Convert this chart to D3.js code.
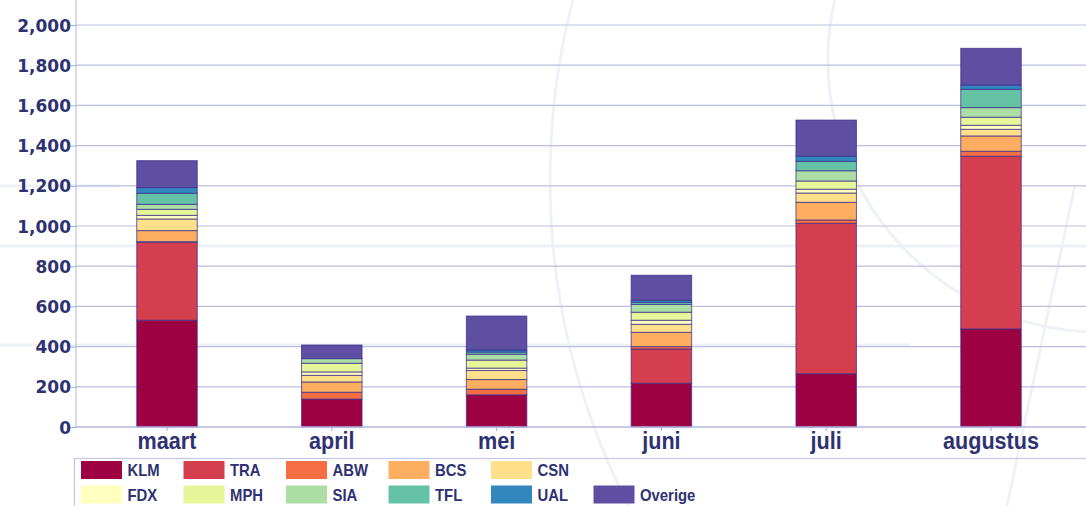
<!DOCTYPE html>
<html>
<head>
<meta charset="utf-8">
<script src="https://cdn.jsdelivr.net/npm/d3@7"></script>
<style>
  html, body { margin: 0; padding: 0; background: #fff; }
  svg { display: block; }
</style>
</head>
<body>
<svg id="chart"></svg>
<script>
// maanden en maatschappijen
const maanden = ['maart', 'april', 'mei', 'juni', 'juli', 'augustus'];
const series = ['KLM', 'TRA', 'ABW', 'BCS', 'CSN', 'FDX', 'MPH', 'SIA', 'TFL', 'UAL', 'Overige'];

const KLM     = [531, 139, 160, 218, 265, 488];
const TRA     = [388,   0,   0, 170, 748, 859];
const ABW     = [  3,  34,  28,  12,  17,  25];
const BCS     = [ 55,  51,  48,  71,  88,  76];
const CSN     = [ 58,  33,  45,  40,  46,  33];
const FDX     = [ 18,  17,  12,  20,  19,  20];
const MPH     = [ 30,  43,  40,  40,  41,  40];
const SIA     = [ 25,  23,  29,  39,  51,  48];
const TFL     = [ 55,   0,  11,  10,  47,  91];
const UAL     = [ 28,   0,  10,  10,  25,  21];
const Overige = [134,  68, 169, 125, 180, 183];

const yTicks = [0, 200, 400, 600, 800, 1000, 1200, 1400, 1600, 1800, 2000];

const waarden = { KLM, TRA, ABW, BCS, CSN, FDX, MPH, SIA, TFL, UAL, Overige };
const tabel = maanden.map((m, i) => {
  const rij = { maand: m };
  series.forEach(s => { rij[s] = waarden[s][i]; });
  return rij;
});

const W = 1086, H = 506;
const tekst = '#2e3272';
const svg = d3.select('#chart').attr('width', W).attr('height', H);

// achtergrond decoratie (vage bogen)
const deco = svg.append('g').attr('fill', 'none').attr('stroke', '#eef2f6').attr('stroke-width', 3);
deco.append('circle').attr('cx', 1266).attr('cy', 180).attr('r', 716);
deco.append('circle').attr('cx', 1100).attr('cy', 60).attr('r', 272);
deco.append('line').attr('x1', 1075).attr('y1', 185).attr('x2', 1007).attr('y2', 506);
deco.append('line').attr('x1', 0).attr('y1', 186).attr('x2', 120).attr('y2', 186);
deco.append('line').attr('x1', 0).attr('y1', 246).attr('x2', 1086).attr('y2', 246);
deco.append('line').attr('x1', 0).attr('y1', 345).attr('x2', 910).attr('y2', 345);

const x = d3.scaleBand().domain(maanden).range([84.6, 1073.4])
  .paddingInner(0.633).paddingOuter(0.3165);
const y = d3.scaleLinear().domain([0, 2000]).range([427, 25]);
const kleur = d3.scaleOrdinal().domain(series).range(d3.schemeSpectral[11]);

// rasterlijnen
svg.append('g').selectAll('line').data(yTicks.slice(1)).join('line')
  .attr('x1', 76).attr('x2', W)
  .attr('y1', d => y(d)).attr('y2', d => y(d))
  .attr('stroke', '#bdbde4').attr('stroke-width', 1.2);

// y-as
const yAxis = svg.append('g').attr('transform', 'translate(76,0)')
  .call(d3.axisLeft(y).tickValues(yTicks).tickSize(5).tickPadding(0).tickFormat(d3.format(',')));
yAxis.select('.domain').attr('stroke', '#b4b4e0').attr('d', 'M0,0V427');
yAxis.selectAll('.tick line').attr('stroke', '#a8a8dc');
yAxis.selectAll('text')
  .attr('fill', tekst).attr('font-family', '"DejaVu Sans", sans-serif')
  .attr('font-weight', 'bold').attr('font-size', 17).attr('dy', '0.36em');

// gestapelde staven
const stack = d3.stack().keys(series)(tabel);
svg.append('g').selectAll('g').data(stack).join('g')
  .attr('fill', d => kleur(d.key))
  .selectAll('rect').data(d => d).join('rect')
  .attr('x', d => x(d.data.maand))
  .attr('width', x.bandwidth())
  .attr('y', d => y(d[1]))
  .attr('height', d => y(d[0]) - y(d[1]))
  .attr('stroke', '#3b2d8c').attr('stroke-opacity', 0.75).attr('stroke-width', 1);

// x-as
const xAxis = svg.append('g').attr('transform', 'translate(0,427)')
  .call(d3.axisBottom(x).tickSize(4).tickPadding(0));
xAxis.select('.domain').attr('stroke', '#b4b4e0').attr('stroke-width', 1.5).attr('d', 'M76,0H' + W);
xAxis.selectAll('.tick line').attr('stroke', '#a8a8dc');
xAxis.selectAll('.tick text').remove();
xAxis.selectAll('.tick').append('text')
  .attr('transform', 'translate(0,22) scale(0.9,1)')
  .attr('text-anchor', 'middle').attr('fill', tekst)
  .attr('font-family', '"Liberation Sans", Arial, sans-serif')
  .attr('font-weight', 'bold').attr('font-size', 24)
  .text(d => d);

// legenda
svg.append('rect').attr('x', 74.5).attr('y', 458.5).attr('width', 1100).attr('height', 80)
  .attr('fill', 'none').attr('stroke', '#c6c6e8').attr('stroke-width', 1.2);
const leg = svg.append('g').selectAll('g').data(series).join('g')
  .attr('transform', (d, i) => `translate(${81 + (i < 5 ? i : i - 5) * 102.5},${i < 5 ? 461 : 485.5})`);
leg.append('rect').attr('width', 41).attr('height', 18).attr('fill', d => kleur(d));
leg.append('text')
  .attr('transform', 'translate(46.5,15) scale(0.93,1)')
  .attr('fill', tekst).attr('font-family', '"Liberation Sans", Arial, sans-serif')
  .attr('font-weight', 'bold').attr('font-size', 16)
  .text(d => d);
</script>
</body>
</html>
